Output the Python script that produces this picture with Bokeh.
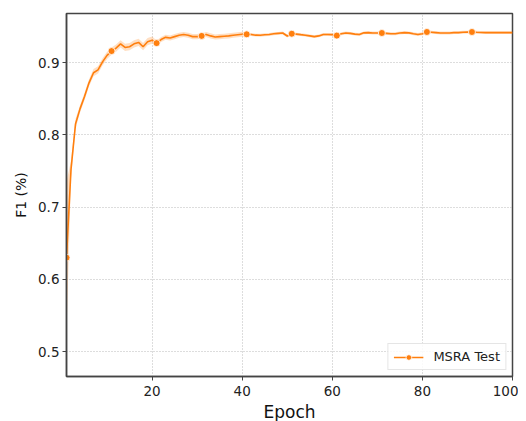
from bokeh.plotting import figure
from bokeh.models import ColumnDataSource, Legend, LegendItem, FixedTicker
from bokeh.embed import file_html
from bokeh.resources import INLINE

epochs = list(range(1, 101))
f1 = [0.630, 0.752, 0.815, 0.836, 0.853, 0.872, 0.886, 0.890, 0.901, 0.910,
      0.916, 0.920, 0.926, 0.921, 0.922, 0.926, 0.928, 0.922, 0.929, 0.931,
      0.927, 0.932, 0.935, 0.934, 0.936, 0.938, 0.939, 0.938, 0.936, 0.936,
      0.937, 0.939, 0.937, 0.9355, 0.936, 0.9365, 0.937, 0.9378, 0.9385, 0.9392,
      0.9392, 0.939, 0.938, 0.9378, 0.9385, 0.939, 0.940, 0.9405, 0.941, 0.9368,
      0.940, 0.9395, 0.9387, 0.938, 0.937, 0.936, 0.937, 0.939, 0.939, 0.9387,
      0.9374, 0.940, 0.941, 0.9405, 0.9395, 0.939, 0.9412, 0.9415, 0.941, 0.941,
      0.941, 0.9405, 0.940, 0.940, 0.941, 0.9415, 0.9412, 0.940, 0.939, 0.940,
      0.9424, 0.942, 0.9415, 0.941, 0.941, 0.941, 0.9415, 0.9415, 0.942, 0.9422,
      0.9424, 0.942, 0.9418, 0.9415, 0.9415, 0.9415, 0.9415, 0.9415, 0.9415, 0.9415]
ci_half = ([0.105, 0.012, 0.007] + [0.005] * 17 + [0.0035] * 20 + [0.002] * 60)
marker_epochs = [1, 11, 21, 31, 41, 51, 61, 71, 81, 91]
x_ticks = [20, 40, 60, 80, 100]
y_ticks = [0.5, 0.6, 0.7, 0.8, 0.9]
series_label = "MSRA Test"

ORANGE = "#ff7f0e"
FONT = "DejaVu Sans"

lower = [v - h for v, h in zip(f1, ci_half)]
upper = [v + h for v, h in zip(f1, ci_half)]
src = ColumnDataSource(dict(x=epochs, y=f1, lo=lower, hi=upper))
msrc = ColumnDataSource(dict(x=marker_epochs, y=[f1[e - 1] for e in marker_epochs]))

p = figure(frame_width=446, frame_height=363, output_backend="svg", toolbar_location=None,
           x_range=(1, 100), y_range=(0.4655, 0.968),
           min_border_left=66, min_border_right=6, min_border_top=13, min_border_bottom=40)
p.background_fill_color = "white"
p.border_fill_color = "white"
p.outline_line_color = "#444444"
p.outline_line_width = 1.5

p.varea(x="x", y1="lo", y2="hi", source=src, fill_color=ORANGE, fill_alpha=0.25)
ln = p.line(x="x", y="y", source=src, line_color=ORANGE, line_width=1.6)
sc = p.scatter(x="x", y="y", source=msrc, size=7, fill_color=ORANGE,
               line_color="white", line_width=0.8)

for ax in (p.xaxis[0], p.yaxis[0]):
    ax.axis_line_color = "#444444"
    ax.axis_line_width = 1.5
    ax.major_tick_line_color = "#444444"
    ax.major_tick_out = 4
    ax.major_tick_in = 0
    ax.minor_tick_line_color = None
    ax.major_label_text_font = FONT
    ax.major_label_text_font_size = "13.5px"
    ax.major_label_text_color = "#222222"
    ax.axis_label_text_font = FONT
    ax.axis_label_text_font_style = "normal"
    ax.axis_label_text_color = "#111111"

p.xaxis.ticker = FixedTicker(ticks=x_ticks)
p.yaxis.ticker = FixedTicker(ticks=y_ticks)
p.xaxis.major_label_standoff = 5
p.yaxis.major_label_standoff = 3
p.xaxis.axis_label = "Epoch"
p.xaxis.axis_label_text_font_size = "17px"
p.xaxis.axis_label_standoff = 3
p.yaxis.axis_label = "F1 (%)"
p.yaxis.axis_label_text_font_size = "14px"
p.yaxis.axis_label_standoff = 6

p.grid.grid_line_color = "#bbbbbb"
p.grid.grid_line_dash = "1 2"
p.grid.grid_line_width = 1
p.xgrid.ticker = FixedTicker(ticks=x_ticks)
p.ygrid.ticker = FixedTicker(ticks=y_ticks)

legend = Legend(items=[LegendItem(label=series_label, renderers=[ln, sc])],
                location="bottom_right")
legend.margin = 6
legend.padding = 5
legend.spacing = 0
legend.glyph_width = 30
legend.glyph_height = 14
legend.label_standoff = 10
legend.label_text_font = FONT
legend.label_text_font_size = "13px"
legend.label_text_color = "#222222"
legend.border_line_color = "#cccccc"
legend.border_line_width = 1
legend.background_fill_alpha = 0.85
p.add_layout(legend)

open("out.html", "w").write(file_html(p, INLINE))
